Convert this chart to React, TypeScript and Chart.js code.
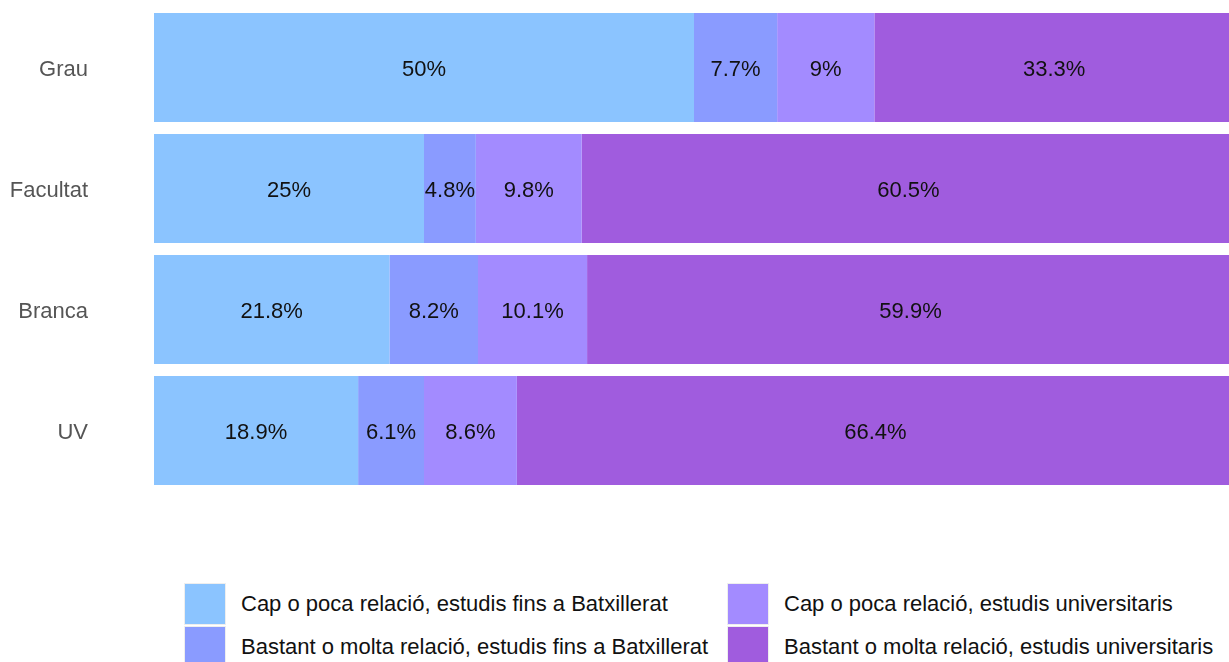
import React, { useEffect, useRef } from "react";
import { Chart, registerables } from "chart.js";

Chart.register(...registerables);

const categories = ["Grau", "Facultat", "Branca", "UV"];
const seriesNames = [
  "Cap o poca relació, estudis fins a Batxillerat",
  "Bastant o molta relació, estudis fins a Batxillerat",
  "Cap o poca relació, estudis universitaris",
  "Bastant o molta relació, estudis universitaris",
];
const capPocaBatx = [50, 25, 21.8, 18.9];
const bastantBatx = [7.7, 4.8, 8.2, 6.1];
const capPocaUniv = [9, 9.8, 10.1, 8.6];
const bastantUniv = [33.3, 60.5, 59.9, 66.4];
const colors = ["#8BC4FF", "#8A9BFF", "#A38BFF", "#A05CDE"];

const FONT = "Arial, 'Liberation Sans', Helvetica, sans-serif";

const valueLabels = {
  id: "valueLabels",
  afterDatasetsDraw(chart: any) {
    const ctx = chart.ctx;
    ctx.save();
    ctx.font = `22px ${FONT}`;
    ctx.fillStyle = "#111";
    ctx.textAlign = "center";
    ctx.textBaseline = "middle";
    chart.data.datasets.forEach((ds: any, i: number) => {
      const meta = chart.getDatasetMeta(i);
      meta.data.forEach((bar: any, j: number) => {
        const v = ds.data[j];
        const cx = (bar.x + bar.base) / 2;
        ctx.fillText(`${v}%`, cx, bar.y + 2);
      });
    });
    ctx.restore();
  },
};

export default function App() {
  const ref = useRef<HTMLCanvasElement>(null);
  useEffect(() => {
    if (!ref.current) return;
    const data = [capPocaBatx, bastantBatx, capPocaUniv, bastantUniv];
    const chart = new Chart(ref.current, {
      type: "bar",
      data: {
        labels: categories,
        datasets: data.map((d, i) => ({
          label: seriesNames[i],
          data: d,
          backgroundColor: colors[i],
          borderWidth: 0,
          barPercentage: 0.9,
          categoryPercentage: 1,
        })),
      },
      options: {
        indexAxis: "y",
        animation: false,
        responsive: true,
        maintainAspectRatio: false,
        layout: { padding: { left: 10, top: 7, bottom: 5, right: 6 } },
        plugins: { legend: { display: false }, tooltip: { enabled: false } },
        scales: {
          x: { stacked: true, min: 0, max: 100, display: false },
          y: {
            stacked: true,
            grid: { display: false, drawTicks: false },
            border: { display: false },
            ticks: { color: "#555", font: { size: 22, family: FONT }, padding: 66, labelOffset: 2 },
            afterFit: (s: any) => {
              s.width = 144;
              s.paddingTop = 0;
              s.paddingBottom = 0;
            },
          },
        },
      },
      plugins: [valueLabels],
    });
    return () => chart.destroy();
  }, []);

  const legendItem = (i: number) => (
    <div key={i} style={{ display: "flex", alignItems: "center", height: 43 }}>
      <div
        style={{
          width: 40,
          height: 40,
          background: colors[i],
          border: "1px solid #eee",
          marginRight: 15,
          flex: "none",
        }}
      />
      <span style={{ font: `22px ${FONT}`, color: "#111", whiteSpace: "nowrap" }}>{seriesNames[i]}</span>
    </div>
  );

  return (
    <div style={{ position: "fixed", left: 0, top: 0, width: 1229, height: 662, overflow: "hidden", background: "#fff" }}>
      <div style={{ position: "absolute", left: 0, top: 0, width: 1240, height: 496 }}>
        <canvas ref={ref} />
      </div>
      <div style={{ position: "absolute", left: 184, top: 582 }}>
        {legendItem(0)}
        {legendItem(1)}
      </div>
      <div style={{ position: "absolute", left: 727, top: 582 }}>
        {legendItem(2)}
        {legendItem(3)}
      </div>
    </div>
  );
}
